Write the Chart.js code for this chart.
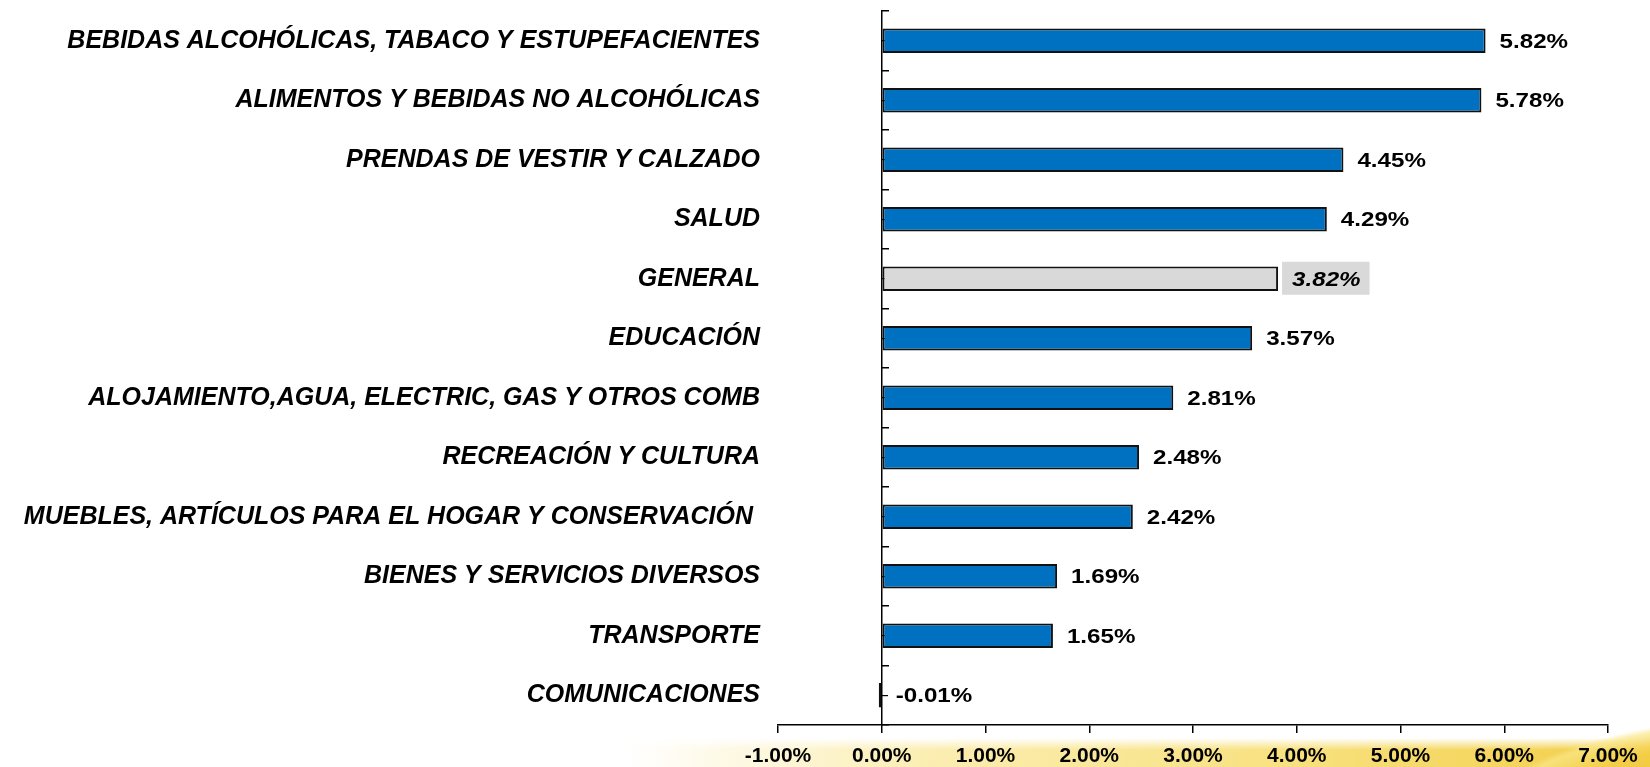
<!DOCTYPE html>
<html>
<head>
<meta charset="utf-8">
<script src="https://cdn.jsdelivr.net/npm/chart.js@4"></script>
<style>
html, body { margin: 0; padding: 0; background: #fff; }
#wrap { position: relative; width: 1650px; height: 767px; overflow: hidden; }
#swoosh {
  position: absolute; left: 0; top: 0; width: 1650px; height: 767px;
  background:
    radial-gradient(ellipse 330px 115px at 1800px 830px, #EDBE22 0%, #F3CD45 80%, rgba(250,232,140,0.7) 96%, rgba(255,255,255,0) 100%),
    linear-gradient(to bottom, #fff, rgba(255,255,255,0)) 0 738px / 100% 12px no-repeat,
    linear-gradient(to right, rgba(255,250,225,0) 38%, rgba(251,236,170,0.9) 56%, rgba(247,222,115,0.95) 80%, rgba(242,205,70,1) 100%) 0 738px / 100% 29px no-repeat;
}
canvas { position: absolute; left: 0; top: 0; }
</style>
</head>
<body>
<div id="wrap">
  <div id="swoosh"></div>
  <canvas id="myChart" width="1650" height="767"></canvas>
</div>
<script>
// data
const categories = [
  "BEBIDAS ALCOHÓLICAS, TABACO Y ESTUPEFACIENTES",
  "ALIMENTOS Y BEBIDAS NO ALCOHÓLICAS",
  "PRENDAS DE VESTIR Y CALZADO",
  "SALUD",
  "GENERAL",
  "EDUCACIÓN",
  "ALOJAMIENTO,AGUA, ELECTRIC, GAS Y OTROS COMB",
  "RECREACIÓN Y CULTURA",
  "MUEBLES, ARTÍCULOS PARA EL HOGAR Y CONSERVACIÓN ",
  "BIENES Y SERVICIOS DIVERSOS",
  "TRANSPORTE",
  "COMUNICACIONES"
];
const values = [5.82, 5.78, 4.45, 4.29, 3.82, 3.57, 2.81, 2.48, 2.42, 1.69, 1.65, -0.01];
const highlight = "GENERAL";
const xTickValues = [-1, 0, 1, 2, 3, 4, 5, 6, 7];
const xTickLabels = ["-1.00%", "0.00%", "1.00%", "2.00%", "3.00%", "4.00%", "5.00%", "6.00%", "7.00%"];

const FONT = '"Liberation Sans", Arial, sans-serif';
Chart.defaults.font.family = FONT;
Chart.defaults.color = "#000";

const barColors = categories.map(c => c === highlight ? "#D9D9D9" : "#0070C0");

// labels at the end of each bar (text is a bit wide in the original)
const valueLabels = {
  id: "valueLabels",
  afterDatasetsDraw(chart) {
    const ctx = chart.ctx;
    const meta = chart.getDatasetMeta(0);
    const zero = chart.scales.x.getPixelForValue(0);
    const sx = 1.15;
    meta.data.forEach((bar, i) => {
      const text = values[i].toFixed(2) + "%";
      const isGen = categories[i] === highlight;
      const end = Math.max(bar.x, zero);
      ctx.save();
      ctx.font = (isGen ? "italic " : "") + "bold 21px " + FONT;
      const w = ctx.measureText(text).width * sx;
      if (isGen) {
        ctx.fillStyle = "#D9D9D9";
        ctx.fillRect(end + 4, bar.y - 17, w + 19, 33);
      }
      ctx.translate(end + 14, bar.y + 1);
      ctx.scale(sx, 1);
      ctx.fillStyle = "#000";
      ctx.textAlign = "left";
      ctx.textBaseline = "middle";
      ctx.fillText(text, 0, 0);
      ctx.restore();
    });
  }
};

const ctx = document.getElementById("myChart").getContext("2d");
const myChart = new Chart(ctx, {
  type: "bar",
  data: {
    labels: categories,
    datasets: [{
      data: values,
      backgroundColor: barColors,
      borderColor: "#111",
      borderWidth: 2,
      borderSkipped: false,
      minBarLength: 3,
      barPercentage: 0.41,
      categoryPercentage: 1
    }]
  },
  options: {
    indexAxis: "y",
    responsive: false,
    animation: false,
    layout: { padding: { top: 11, right: 42, left: 0, bottom: 0 } },
    plugins: { legend: { display: false }, tooltip: { enabled: false } },
    scales: {
      x: {
        type: "linear",
        min: xTickValues[0],
        max: xTickValues[xTickValues.length - 1],
        ticks: {
          stepSize: 1,
          padding: 12,
          font: { size: 21, weight: "bold", lineHeight: 1.1 },
          callback: v => xTickLabels[xTickValues.indexOf(v)]
        },
        grid: { drawOnChartArea: false, color: "#000", tickLength: 8, lineWidth: 1.5 },
        border: { color: "#000", width: 1.5 },
        afterFit(scale) { scale.height = 42; }
      },
      y: {
        type: "category",
        position: { x: 0 },
        offset: true,
        grid: { drawOnChartArea: false, offset: true, color: "#000", tickLength: -8, lineWidth: 1.5 },
        ticks: { display: false },
        border: { color: "#000", width: 1.5 }
      },
      yc: {
        axis: "y",
        type: "category",
        labels: categories,
        position: { x: 0 },
        offset: true,
        grid: { drawOnChartArea: false, offset: false, color: "#000", tickLength: -6, lineWidth: 1.2 },
        ticks: { display: false },
        border: { display: false }
      },
      yl: {
        axis: "y",
        type: "category",
        labels: categories,
        position: "left",
        offset: true,
        grid: { display: false },
        border: { display: false },
        ticks: { padding: 10, font: { size: 25, weight: "bold", style: "italic" } },
        afterFit(scale) {
          scale.width = 778;
          scale.paddingTop = 0;
          scale.paddingBottom = 0;
        }
      }
    }
  },
  plugins: [valueLabels]
});
</script>
</body>
</html>
